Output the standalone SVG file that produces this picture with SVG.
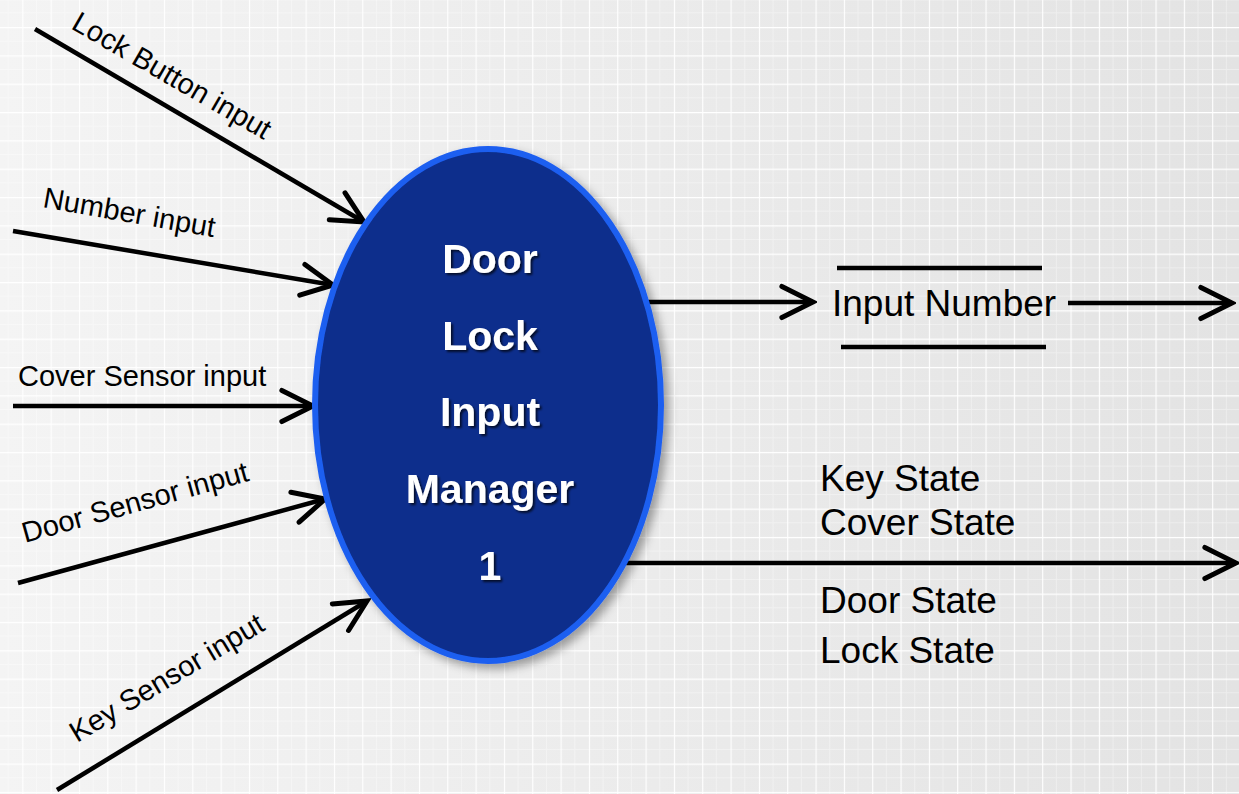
<svg xmlns="http://www.w3.org/2000/svg" width="1239" height="794" viewBox="0 0 1239 794">
  <defs>
    <linearGradient id="bg" x1="0" y1="0" x2="1" y2="0">
      <stop offset="0" stop-color="#f4f4f4"/>
      <stop offset="1" stop-color="#e3e3e3"/>
    </linearGradient>
    <pattern id="grid" patternUnits="userSpaceOnUse" x="22.3" y="27" width="28.33" height="28.33">
      <path d="M0,0 V28.33 M0,0 H28.33" stroke="#ffffff" stroke-width="2.2" fill="none"/>
      <path d="M14.2,0 V28.33 M0,14.2 H28.33" stroke="#ffffff" stroke-width="1" opacity="0.35" fill="none"/>
    </pattern>
    <filter id="shadow" x="-20%" y="-20%" width="140%" height="140%">
      <feDropShadow dx="5" dy="5" stdDeviation="5" flood-color="#000" flood-opacity="0.35"/>
    </filter>
    <filter id="tshadow" x="-20%" y="-30%" width="140%" height="160%">
      <feDropShadow dx="2" dy="2" stdDeviation="1" flood-color="#000" flood-opacity="0.7"/>
    </filter>
    <marker id="arrow" markerUnits="userSpaceOnUse" markerWidth="40" markerHeight="40" viewBox="-32 -18 36 36" refX="0" refY="0" orient="auto">
      <path d="M-28,-14 L0,0 L-28,14" fill="none" stroke="#000" stroke-width="4.5" stroke-linecap="round" stroke-linejoin="miter"/>
    </marker>
    <style>
      .flow { stroke: #000; stroke-width: 4.5; fill: none; marker-end: url(#arrow); }
      .bar { stroke: #000; stroke-width: 4.5; }
      .lbl { font-family: "Liberation Sans", Arial, sans-serif; font-size: 29px; fill: #000; }
      .big { font-family: "Liberation Sans", Arial, sans-serif; font-size: 37px; fill: #000; }
      .title { font-family: "Liberation Sans", Arial, sans-serif; font-size: 41px; font-weight: bold; fill: #fff; text-anchor: middle; filter: url(#tshadow); }
    </style>
  </defs>

  <g id="background">
    <rect x="0" y="0" width="1239" height="794" fill="url(#bg)"/>
    <rect x="0" y="0" width="1239" height="794" fill="url(#grid)"/>
  </g>

  <g id="connectors">
    <line class="flow" x1="35" y1="29" x2="364" y2="222"/>
    <line class="flow" x1="13" y1="231" x2="333" y2="285"/>
    <line class="flow" x1="13" y1="406" x2="313" y2="406"/>
    <line class="flow" x1="18" y1="583" x2="325" y2="499"/>
    <line class="flow" x1="57" y1="790" x2="367" y2="601"/>
    <line class="flow" x1="648" y1="302" x2="813" y2="302"/>
    <line class="flow" x1="1068" y1="303" x2="1232" y2="303"/>
    <line class="flow" x1="625" y1="563" x2="1236" y2="563"/>
  </g>

  <g id="connector-labels">
    <text class="lbl" transform="translate(70,28) rotate(30)">Lock Button input</text>
    <text class="lbl" transform="translate(42,207) rotate(10)">Number input</text>
    <text class="lbl" x="18" y="386">Cover Sensor input</text>
    <text class="lbl" transform="translate(25,543) rotate(-15.5)">Door Sensor input</text>
    <text class="lbl" transform="translate(77,743) rotate(-31)">Key Sensor input</text>
    <text class="big" x="820" y="491">Key State</text>
    <text class="big" x="820" y="535">Cover State</text>
    <text class="big" x="820" y="613">Door State</text>
    <text class="big" x="820" y="663">Lock State</text>
  </g>

  <g id="process-1">
    <ellipse cx="488" cy="405" rx="173" ry="256" fill="#0b2f8c" stroke="#1f5ef0" stroke-width="6" filter="url(#shadow)"/>
    <text class="title" x="490" y="273">Door</text>
    <text class="title" x="490" y="350">Lock</text>
    <text class="title" x="490" y="426">Input</text>
    <text class="title" x="490" y="503">Manager</text>
    <text class="title" x="490" y="580">1</text>
  </g>

  <g id="store-input-number">
    <line class="bar" x1="837" y1="268" x2="1042" y2="268"/>
    <line class="bar" x1="841" y1="347" x2="1046" y2="347"/>
    <text class="big" x="832" y="316">Input Number</text>
  </g>
</svg>
